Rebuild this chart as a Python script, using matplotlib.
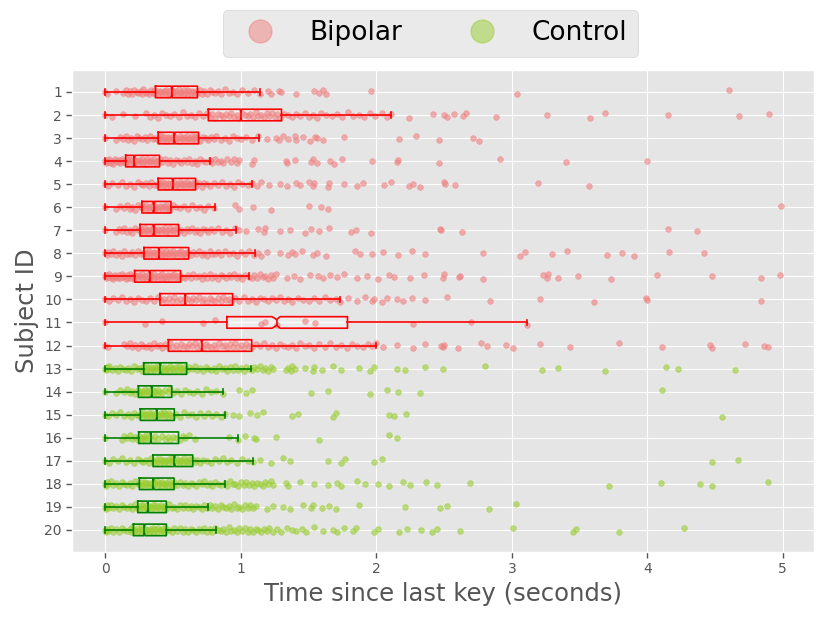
import numpy as np
import matplotlib
matplotlib.use('Agg')
import matplotlib.pyplot as plt
from matplotlib.lines import Line2D

# keystroke gaps per subject (seconds)
subj_01 = [0.00, 0.01, 0.08, 0.13, 0.15, 0.17, 0.18, 0.20, 0.21, 0.23, 0.24, 0.26, 0.27, 0.28, 0.30, 0.31, 0.32, 0.34,
           0.35, 0.36, 0.37, 0.38, 0.39, 0.40, 0.41, 0.42, 0.43, 0.44, 0.45, 0.46, 0.47, 0.48, 0.49, 0.50, 0.51, 0.52,
           0.53, 0.54, 0.55, 0.56, 0.57, 0.58, 0.59, 0.60, 0.61, 0.62, 0.63, 0.64, 0.65, 0.66, 0.67, 0.68, 0.70, 0.71,
           0.73, 0.75, 0.77, 0.79, 0.81, 0.83, 0.85, 0.88, 0.91, 0.94, 0.97, 1.01, 1.05, 1.10, 1.14,
           1.20, 1.22, 1.28, 1.30, 1.41, 1.54, 1.58, 1.61, 1.63, 1.96, 3.04, 4.60]
subj_02 = [0.00, 0.05, 0.13, 0.22, 0.30, 0.33, 0.36, 0.39, 0.42, 0.45, 0.48, 0.51, 0.54, 0.57, 0.60, 0.63, 0.66, 0.69,
           0.72, 0.75, 0.77, 0.79, 0.81, 0.83, 0.85, 0.87, 0.89, 0.91, 0.93, 0.95, 0.97, 0.99, 1.01, 1.03, 1.05, 1.07,
           1.09, 1.11, 1.13, 1.15, 1.17, 1.19, 1.21, 1.23, 1.25, 1.27, 1.29, 1.32, 1.35, 1.38, 1.41, 1.44, 1.47, 1.50,
           1.53, 1.56, 1.59, 1.63, 1.67, 1.71, 1.75, 1.79, 1.83, 1.87, 1.91, 1.95, 1.99, 2.04, 2.08, 2.11,
           2.24, 2.42, 2.50, 2.52, 2.57, 2.64, 2.66, 2.88, 3.26, 3.58, 3.69, 4.15, 4.68, 4.90]
subj_03 = [0.00, 0.08, 0.11, 0.13, 0.15, 0.17, 0.19, 0.21, 0.23, 0.25, 0.27, 0.29, 0.31, 0.33, 0.35, 0.37, 0.39, 0.40,
           0.41, 0.42, 0.43, 0.44, 0.45, 0.46, 0.47, 0.48, 0.49, 0.50, 0.51, 0.52, 0.53, 0.54, 0.55, 0.56, 0.57, 0.58,
           0.59, 0.60, 0.61, 0.62, 0.63, 0.64, 0.65, 0.66, 0.67, 0.68, 0.70, 0.72, 0.74, 0.76, 0.78, 0.80, 0.82, 0.85,
           0.88, 0.91, 0.94, 0.97, 1.00, 1.04, 1.08, 1.13,
           1.19, 1.26, 1.28, 1.31, 1.35, 1.40, 1.41, 1.46, 1.51, 1.55, 1.56, 1.61, 1.76, 2.17, 2.29, 2.46, 2.71, 2.76]
subj_04 = [0.00, 0.005, 0.01, 0.02, 0.03, 0.04, 0.05, 0.06, 0.07, 0.08, 0.09, 0.10, 0.11, 0.12, 0.13, 0.14, 0.15,
           0.16, 0.17, 0.18, 0.19, 0.20, 0.21, 0.22, 0.23, 0.24, 0.25, 0.26, 0.27, 0.28, 0.29, 0.30, 0.31, 0.32, 0.33,
           0.34, 0.35, 0.36, 0.37, 0.38, 0.39, 0.40, 0.42, 0.44, 0.46, 0.48, 0.50, 0.52, 0.54, 0.56, 0.58, 0.60, 0.62,
           0.64, 0.66, 0.68, 0.70, 0.72, 0.74, 0.77,
           0.79, 0.81, 0.83, 0.85, 0.87, 0.90, 0.93, 0.95, 0.97, 0.99, 1.08, 1.10, 1.33, 1.34, 1.40, 1.52, 1.53, 1.56,
           1.66, 1.69, 1.75, 1.97, 2.15, 2.16, 2.46, 2.91, 3.40, 4.00]
subj_05 = [0.00, 0.02, 0.05, 0.09, 0.12, 0.15, 0.18, 0.21, 0.24, 0.26, 0.28, 0.30, 0.32, 0.34, 0.36, 0.38, 0.39, 0.40,
           0.41, 0.42, 0.43, 0.44, 0.45, 0.46, 0.47, 0.48, 0.49, 0.50, 0.51, 0.52, 0.53, 0.54, 0.55, 0.56, 0.57, 0.58,
           0.59, 0.60, 0.61, 0.62, 0.63, 0.64, 0.65, 0.66, 0.67, 0.69, 0.71, 0.73, 0.75, 0.77, 0.80, 0.83, 0.86, 0.89,
           0.92, 0.95, 0.98, 1.01, 1.05, 1.08,
           1.12, 1.15, 1.21, 1.29, 1.34, 1.41, 1.44, 1.50, 1.53, 1.54, 1.64, 1.65, 1.76, 1.86, 1.90, 2.06, 2.11, 2.24,
           2.27, 2.32, 2.50, 2.51, 2.58, 3.19, 3.57]
subj_06 = [0.00, 0.08, 0.11, 0.14, 0.16, 0.18, 0.20, 0.22, 0.24, 0.26, 0.27, 0.28, 0.29, 0.30, 0.31, 0.32, 0.33, 0.34,
           0.35, 0.36, 0.37, 0.38, 0.39, 0.40, 0.41, 0.42, 0.43, 0.44, 0.45, 0.46, 0.47, 0.48, 0.50, 0.52, 0.55, 0.58,
           0.61, 0.64, 0.67, 0.70, 0.73, 0.76, 0.80,
           0.96, 0.99, 1.09, 1.22, 1.50, 1.59, 1.64, 4.99]
subj_07 = [0.00, 0.08, 0.10, 0.12, 0.14, 0.16, 0.18, 0.20, 0.22, 0.24, 0.26, 0.27, 0.28, 0.29, 0.30, 0.31, 0.32, 0.33,
           0.34, 0.35, 0.36, 0.37, 0.38, 0.39, 0.40, 0.41, 0.42, 0.43, 0.44, 0.45, 0.46, 0.47, 0.48, 0.49, 0.50, 0.51,
           0.52, 0.53, 0.54, 0.56, 0.58, 0.60, 0.62, 0.64, 0.66, 0.68, 0.70, 0.72, 0.74, 0.76, 0.78, 0.80, 0.83, 0.86,
           0.89, 0.92, 0.96,
           0.99, 1.04, 1.13, 1.17, 1.18, 1.29, 1.36, 1.47, 1.52, 1.58, 1.65, 1.81, 1.85, 1.96, 2.47, 2.48, 2.63, 4.15,
           4.37]
subj_08 = [0.00, 0.01, 0.02, 0.04, 0.06, 0.08, 0.10, 0.12, 0.14, 0.16, 0.18, 0.20, 0.22, 0.24, 0.26, 0.28, 0.29, 0.30,
           0.31, 0.32, 0.33, 0.34, 0.35, 0.36, 0.37, 0.38, 0.39, 0.40, 0.41, 0.42, 0.43, 0.44, 0.45, 0.46, 0.47, 0.48,
           0.49, 0.50, 0.51, 0.52, 0.53, 0.54, 0.55, 0.56, 0.57, 0.58, 0.59, 0.60, 0.61, 0.63, 0.65, 0.67, 0.69, 0.71,
           0.73, 0.75, 0.77, 0.79, 0.81, 0.83, 0.85, 0.88, 0.91, 0.94, 0.97, 1.00, 1.03, 1.06, 1.10,
           1.13, 1.15, 1.19, 1.29, 1.35, 1.38, 1.40, 1.45, 1.53, 1.56, 1.63, 1.84, 1.88, 1.97, 2.05, 2.16, 2.26, 2.36,
           2.79, 3.06, 3.10, 3.30, 3.41, 3.70, 3.81, 3.90, 4.16, 4.42]
subj_09 = [0.00, 0.005, 0.01, 0.02, 0.03, 0.04, 0.05, 0.06, 0.07, 0.08, 0.09, 0.10, 0.11, 0.12, 0.13, 0.14, 0.15,
           0.16, 0.17, 0.18, 0.19, 0.20, 0.21, 0.22, 0.23, 0.24, 0.25, 0.26, 0.27, 0.28, 0.29, 0.30, 0.31, 0.32, 0.33,
           0.34, 0.35, 0.36, 0.37, 0.38, 0.39, 0.40, 0.41, 0.42, 0.43, 0.44, 0.45, 0.46, 0.47, 0.48, 0.49, 0.50, 0.51,
           0.52, 0.53, 0.54, 0.55, 0.57, 0.59, 0.61, 0.63, 0.65, 0.67, 0.69, 0.71, 0.73, 0.75, 0.77, 0.79, 0.81, 0.83,
           0.85, 0.87, 0.89, 0.91, 0.93, 0.95, 0.97, 0.99, 1.01, 1.03, 1.06,
           1.08, 1.10, 1.12, 1.14, 1.16, 1.18, 1.20, 1.22, 1.24, 1.26, 1.34, 1.39, 1.44, 1.51, 1.57, 1.61, 1.66, 1.71,
           1.76, 1.86, 1.93, 2.01, 2.09, 2.13, 2.25, 2.35, 2.49, 2.50, 2.61, 2.62, 2.79, 3.23, 3.26, 3.27, 3.34, 3.49,
           3.73, 4.07, 4.48, 4.84, 4.98]
subj_10 = [0.00, 0.03, 0.06, 0.09, 0.12, 0.15, 0.18, 0.21, 0.24, 0.27, 0.30, 0.33, 0.36, 0.39, 0.41, 0.43, 0.45, 0.47,
           0.49, 0.51, 0.53, 0.55, 0.57, 0.59, 0.61, 0.63, 0.65, 0.67, 0.69, 0.71, 0.73, 0.75, 0.77, 0.79, 0.81, 0.83,
           0.85, 0.87, 0.89, 0.91, 0.93, 0.96, 0.99, 1.02, 1.05, 1.08, 1.11, 1.14, 1.17, 1.20, 1.23, 1.26, 1.29, 1.32,
           1.35, 1.38, 1.42, 1.46, 1.50, 1.54, 1.58, 1.62, 1.66, 1.70, 1.73,
           1.79, 1.86, 1.92, 1.97, 1.98, 2.04, 2.08, 2.15, 2.20, 2.26, 2.36, 2.52, 2.84, 3.21, 3.61, 3.99, 4.00, 4.84]
subj_11 = [0.00, 0.29, 0.42, 0.72, 0.81, 1.15, 1.18, 1.27, 1.47, 1.55, 2.27, 2.70, 3.11]
subj_12 = [0.00, 0.02, 0.14, 0.16, 0.18, 0.20, 0.22, 0.24, 0.26, 0.28, 0.30, 0.32, 0.34, 0.36, 0.38, 0.40, 0.42, 0.44,
           0.46, 0.48, 0.50, 0.52, 0.54, 0.56, 0.58, 0.60, 0.62, 0.64, 0.66, 0.68, 0.70, 0.72, 0.74, 0.76, 0.78, 0.80,
           0.82, 0.84, 0.86, 0.88, 0.90, 0.92, 0.94, 0.96, 0.98, 1.00, 1.02, 1.04, 1.06, 1.08, 1.11, 1.14, 1.17, 1.20,
           1.23, 1.26, 1.29, 1.32, 1.35, 1.38, 1.41, 1.44, 1.47, 1.50, 1.54, 1.58, 1.62, 1.66, 1.70, 1.74, 1.78, 1.82,
           1.86, 1.90, 1.94, 1.97, 2.00,
           2.05, 2.15, 2.27, 2.36, 2.48, 2.49, 2.50, 2.60, 2.77, 2.82, 2.96, 3.01, 3.21, 3.43, 3.79, 4.11, 4.46, 4.48,
           4.72, 4.86, 4.89]
subj_13 = [0.00, 0.005, 0.01, 0.02, 0.03, 0.05, 0.07, 0.09, 0.11, 0.13, 0.15, 0.17, 0.19, 0.21, 0.23, 0.25, 0.27,
           0.28, 0.29, 0.30, 0.31, 0.32, 0.33, 0.34, 0.35, 0.36, 0.37, 0.38, 0.39, 0.40, 0.41, 0.42, 0.43, 0.44, 0.45,
           0.46, 0.47, 0.48, 0.49, 0.50, 0.51, 0.52, 0.53, 0.54, 0.55, 0.56, 0.57, 0.58, 0.59, 0.60, 0.62, 0.64, 0.66,
           0.68, 0.70, 0.72, 0.74, 0.76, 0.78, 0.80, 0.82, 0.84, 0.86, 0.88, 0.90, 0.92, 0.94, 0.96, 0.98, 1.00, 1.02,
           1.04, 1.06, 1.08,
           1.10, 1.12, 1.14, 1.16, 1.18, 1.20, 1.22, 1.24, 1.33, 1.35, 1.37, 1.38, 1.40, 1.47, 1.53, 1.54, 1.60, 1.68,
           1.74, 1.87, 1.95, 1.98, 2.15, 2.21, 2.36, 2.49, 2.80, 3.22, 3.34, 3.69, 4.14, 4.23, 4.65]
subj_14 = [0.00, 0.08, 0.11, 0.14, 0.16, 0.18, 0.20, 0.22, 0.24, 0.25, 0.26, 0.27, 0.28, 0.29, 0.30, 0.31, 0.32, 0.33,
           0.34, 0.35, 0.36, 0.37, 0.38, 0.39, 0.40, 0.42, 0.44, 0.46, 0.48, 0.50, 0.53, 0.56, 0.59, 0.62, 0.65, 0.68,
           0.71, 0.74, 0.78, 0.82, 0.87,
           0.99, 1.04, 1.08, 1.52, 1.64, 1.95, 2.08, 2.16, 2.32, 4.11]
subj_15 = [0.00, 0.02, 0.05, 0.08, 0.11, 0.14, 0.17, 0.19, 0.21, 0.23, 0.25, 0.26, 0.27, 0.28, 0.29, 0.30, 0.31, 0.32,
           0.33, 0.34, 0.35, 0.36, 0.37, 0.38, 0.39, 0.40, 0.41, 0.42, 0.43, 0.44, 0.45, 0.46, 0.47, 0.48, 0.50, 0.52,
           0.55, 0.58, 0.61, 0.64, 0.67, 0.70, 0.73, 0.76, 0.79, 0.82, 0.85, 0.88,
           0.94, 0.99, 1.07, 1.12, 1.16, 1.38, 1.42, 1.68, 1.70, 2.09, 2.13, 2.22, 4.55]
subj_16 = [0.00, 0.12, 0.14, 0.16, 0.18, 0.20, 0.22, 0.24, 0.25, 0.26, 0.27, 0.28, 0.29, 0.30, 0.31, 0.33, 0.35, 0.37,
           0.39, 0.42, 0.44, 0.46, 0.48, 0.50, 0.52, 0.55, 0.57, 0.59, 0.62, 0.66, 0.91, 0.98,
           1.03, 1.10, 1.11, 1.26, 1.58, 2.09, 2.15]
subj_17 = [0.00, 0.03, 0.06, 0.09, 0.12, 0.15, 0.18, 0.21, 0.24, 0.26, 0.28, 0.30, 0.32, 0.34, 0.35, 0.36, 0.37, 0.38,
           0.39, 0.40, 0.41, 0.42, 0.43, 0.44, 0.45, 0.46, 0.47, 0.48, 0.49, 0.50, 0.51, 0.52, 0.53, 0.54, 0.55, 0.56,
           0.57, 0.58, 0.59, 0.60, 0.61, 0.62, 0.63, 0.64, 0.66, 0.68, 0.70, 0.72, 0.75, 0.78, 0.81, 0.84, 0.87, 0.90,
           0.93, 0.97, 1.01, 1.05, 1.09,
           1.14, 1.22, 1.31, 1.36, 1.64, 1.74, 1.77, 1.98, 2.04, 4.48, 4.67]
subj_18 = [0.00, 0.005, 0.01, 0.02, 0.04, 0.06, 0.08, 0.10, 0.12, 0.14, 0.16, 0.18, 0.20, 0.22, 0.24, 0.25, 0.26,
           0.27, 0.28, 0.29, 0.30, 0.31, 0.32, 0.33, 0.34, 0.35, 0.36, 0.37, 0.38, 0.39, 0.40, 0.41, 0.42, 0.43, 0.44,
           0.45, 0.46, 0.47, 0.48, 0.49, 0.50, 0.51, 0.53, 0.55, 0.57, 0.59, 0.61, 0.63, 0.65, 0.67, 0.69, 0.71, 0.73,
           0.75, 0.77, 0.79, 0.81, 0.83, 0.85, 0.88,
           0.90, 0.92, 0.94, 0.96, 0.98, 1.00, 1.02, 1.04, 1.06, 1.08, 1.10, 1.12, 1.14, 1.16, 1.18, 1.20, 1.22, 1.24,
           1.33, 1.35, 1.44, 1.54, 1.64, 1.71, 1.74, 1.86, 1.92, 2.01, 2.09, 2.20, 2.25, 2.37, 2.45, 2.69, 3.72, 4.10,
           4.39, 4.48, 4.89]
subj_19 = [0.00, 0.005, 0.01, 0.02, 0.04, 0.06, 0.08, 0.10, 0.12, 0.14, 0.16, 0.18, 0.20, 0.22, 0.23, 0.24, 0.25,
           0.26, 0.27, 0.28, 0.29, 0.30, 0.31, 0.32, 0.33, 0.34, 0.35, 0.36, 0.37, 0.38, 0.39, 0.40, 0.41, 0.42, 0.43,
           0.44, 0.45, 0.47, 0.49, 0.51, 0.53, 0.55, 0.57, 0.59, 0.61, 0.63, 0.65, 0.67, 0.69, 0.71, 0.73, 0.75,
           0.77, 0.79, 0.81, 0.83, 0.85, 0.87, 0.89, 0.91, 0.93, 0.95, 0.97, 0.99, 1.01, 1.03, 1.05, 1.07, 1.09, 1.11,
           1.19, 1.24, 1.31, 1.36, 1.46, 1.52, 1.53, 1.60, 1.65, 1.70, 1.87, 2.21, 2.47, 2.52, 2.83, 3.03]
subj_20 = [0.00, 0.005, 0.01, 0.02, 0.04, 0.06, 0.08, 0.10, 0.12, 0.14, 0.16, 0.18, 0.19, 0.20, 0.21, 0.22, 0.23,
           0.24, 0.25, 0.26, 0.27, 0.28, 0.29, 0.30, 0.31, 0.32, 0.33, 0.34, 0.35, 0.36, 0.37, 0.38, 0.39, 0.40, 0.41,
           0.42, 0.43, 0.44, 0.45, 0.47, 0.49, 0.51, 0.53, 0.55, 0.57, 0.59, 0.61, 0.63, 0.65, 0.67, 0.69, 0.71, 0.73,
           0.75, 0.77, 0.79, 0.81,
           0.83, 0.85, 0.87, 0.89, 0.91, 0.93, 0.95, 0.97, 0.99, 1.01, 1.03, 1.05, 1.07, 1.09, 1.11, 1.13, 1.15, 1.17,
           1.19, 1.21, 1.24, 1.27, 1.30, 1.34, 1.38, 1.41, 1.45, 1.48, 1.54, 1.61, 1.68, 1.71, 1.76, 1.83, 1.85, 1.98,
           2.01, 2.17, 2.23, 2.33, 2.41, 2.45, 2.62, 3.01, 3.45, 3.47, 3.79, 4.27]

all_times = [subj_01, subj_02, subj_03, subj_04, subj_05, subj_06, subj_07, subj_08, subj_09, subj_10,
             subj_11, subj_12, subj_13, subj_14, subj_15, subj_16, subj_17, subj_18, subj_19, subj_20]
subject_ids = list(range(1, 21))
n_bipolar = 12

# box statistics
q1s = [0.37, 0.76, 0.39, 0.15, 0.39, 0.27, 0.256, 0.285, 0.216, 0.403,
       0.897, 0.465, 0.283, 0.244, 0.258, 0.246, 0.352, 0.251, 0.239, 0.207]
medians = [0.49, 1.00, 0.51, 0.214, 0.497, 0.356, 0.356, 0.395, 0.327, 0.59,
           1.265, 0.711, 0.406, 0.342, 0.379, 0.335, 0.51, 0.354, 0.313, 0.288]
q3s = [0.68, 1.30, 0.688, 0.40, 0.666, 0.484, 0.541, 0.615, 0.555, 0.939,
       1.787, 1.08, 0.60, 0.49, 0.509, 0.54, 0.645, 0.507, 0.45, 0.45]
whis_hi = [1.145, 2.11, 1.136, 0.77, 1.084, 0.806, 0.964, 1.104, 1.062, 1.733,
           3.11, 2.0, 1.078, 0.87, 0.883, 0.98, 1.088, 0.883, 0.758, 0.815]
ci_lo = [0.485, 0.995, 0.505, 0.209, 0.492, 0.351, 0.351, 0.39, 0.322, 0.585,
         1.23, 0.706, 0.401, 0.337, 0.374, 0.33, 0.505, 0.349, 0.308, 0.283]
ci_hi = [0.495, 1.005, 0.515, 0.219, 0.502, 0.361, 0.361, 0.40, 0.332, 0.595,
         1.29, 0.716, 0.411, 0.347, 0.384, 0.34, 0.515, 0.359, 0.318, 0.293]

group_names = ['Bipolar', 'Control']
point_colors = ['lightcoral', 'yellowgreen']
line_colors = ['red', 'green']

# vertical strip jitter (fraction of a row)
jitter_pattern = np.array([0.00, 0.08, -0.06, 0.03, -0.10, 0.07, -0.02, 0.11, -0.08, 0.01,
                           0.05, -0.04, 0.09, -0.11, 0.03, -0.01, 0.10, -0.07, 0.05, -0.09, 0.07,
                           -0.03, 0.11, -0.05])

plt.style.use('ggplot')
fig = plt.figure(figsize=(8.31, 6.2), dpi=100)
ax = fig.add_axes([0.087, 0.110, 0.8925, 0.777])

for i, sid in enumerate(subject_ids):
    g = 0 if i < n_bipolar else 1
    st = dict(med=medians[i], q1=q1s[i], q3=q3s[i], whislo=0.0, whishi=whis_hi[i],
              cilo=ci_lo[i], cihi=ci_hi[i], fliers=[])
    # light box face under the points
    ax.bxp([st], positions=[sid], orientation='horizontal', widths=0.5, shownotches=True,
           showfliers=False, patch_artist=True, showcaps=False,
           boxprops=dict(facecolor=(1, 1, 1, 0.3), edgecolor='none', zorder=1.5),
           whiskerprops=dict(linewidth=0), medianprops=dict(linewidth=0), manage_ticks=False)
    # strip points
    vals = np.array(all_times[i])
    jit = np.resize(jitter_pattern, len(vals))
    ax.scatter(vals, sid + jit, s=17, color=point_colors[g], alpha=0.6,
               edgecolors=point_colors[g], linewidths=0.5, zorder=3)
    # box outline on top
    lc = line_colors[g]
    ax.bxp([st], positions=[sid], orientation='horizontal', widths=0.5, shownotches=True,
           showfliers=False, manage_ticks=False,
           boxprops=dict(color=lc, linewidth=1.2, zorder=4),
           whiskerprops=dict(color=lc, linewidth=1.2, zorder=4),
           capprops=dict(color=lc, linewidth=1.2, zorder=4),
           medianprops=dict(color=lc, linewidth=1.2, zorder=4))

ax.set_yticks(subject_ids)
ax.set_yticklabels([str(s) for s in subject_ids])
ax.set_ylim(20.95, 0.05)
ax.set_xlim(-0.244, 5.23)
ax.set_xticks([0, 1, 2, 3, 4, 5])
ax.tick_params(labelsize=10, colors='#555555', length=4, width=1)
ax.set_xlabel('Time since last key (seconds)', fontsize=17.5, color='#555555')
ax.set_ylabel('Subject ID', fontsize=17.5, color='#555555')

handles = [Line2D([0], [0], marker='o', linestyle='none', markersize=16.5,
                  markerfacecolor=c, markeredgecolor=c, alpha=0.5) for c in point_colors]
fig.legend(handles, group_names, loc='upper center', bbox_to_anchor=(0.518, 0.984), ncol=2,
           fontsize=19, handletextpad=0.9, borderaxespad=0)

fig.savefig('out.png', dpi=100)
